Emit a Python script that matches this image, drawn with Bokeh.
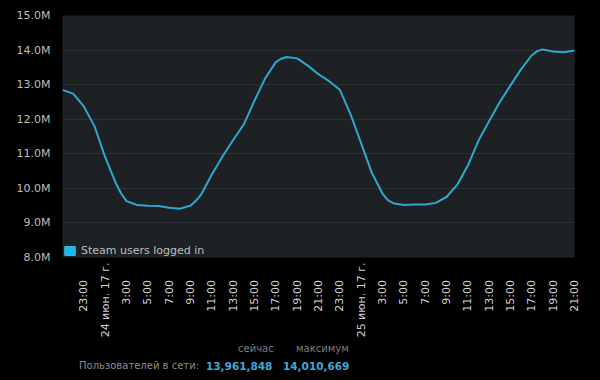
import math
from bokeh.plotting import figure
from bokeh.models import FixedTicker, Range1d, Legend, LegendItem, Div
from bokeh.layouts import column
from bokeh.embed import file_html
from bokeh.resources import INLINE

# hours since 2017-06-23 21:00
hours = [0, 1, 2, 3, 4, 5, 5.5, 6, 7, 8, 9,
         10, 11, 12, 12.5, 13, 14, 15, 16, 17, 18, 19,
         20, 20.5, 21, 22, 23, 24, 25, 26, 27, 28, 29,
         30, 30.5, 31, 32, 33, 34, 35, 36, 37, 38, 39,
         40, 41, 42, 43, 44, 44.5, 45, 46, 47, 48]
users_m = [12.85, 12.74, 12.37, 11.80, 10.90, 10.15, 9.85, 9.63, 9.52, 9.50, 9.49,
           9.44, 9.41, 9.50, 9.64, 9.82, 10.40, 10.92, 11.40, 11.85, 12.54, 13.18,
           13.65, 13.75, 13.80, 13.76, 13.55, 13.30, 13.10, 12.85, 12.15, 11.30, 10.45,
           9.85, 9.66, 9.57, 9.52, 9.53, 9.53, 9.58, 9.75, 10.10, 10.66, 11.38,
           11.95, 12.50, 12.98, 13.45, 13.85, 13.97, 14.02, 13.96, 13.94, 13.99]

y_ticks = [8, 9, 10, 11, 12, 13, 14, 15]
y_labels = ["8.0M", "9.0M", "10.0M", "11.0M", "12.0M", "13.0M", "14.0M", "15.0M"]

x_ticks = [2, 4, 6, 8, 10, 12, 14, 16, 18, 20, 22, 24, 26, 28, 30, 32, 34, 36, 38, 40, 42, 44, 46, 48]
x_labels = ["23:00", "24 июн. 17 г.", "3:00", "5:00", "7:00", "9:00", "11:00", "13:00", "15:00",
            "17:00", "19:00", "21:00", "23:00", "25 июн. 17 г.", "3:00", "5:00", "7:00", "9:00",
            "11:00", "13:00", "15:00", "17:00", "19:00", "21:00"]

series_name = "Steam users logged in"
stat_headers = ["сейчас", "максимум"]
stat_row_label = "Пользователей в сети:"
stat_values = ["13,961,848", "14,010,669"]

FONT = "DejaVu Sans"
TXT = "#bdbdbd"
PAD = "\u00a0" * 5  # hour labels sit a little further from the axis than date labels

p = figure(width=600, height=340, output_backend="svg", toolbar_location=None,
           min_border_left=62, min_border_right=26, min_border_top=15, min_border_bottom=82,
           x_range=Range1d(0, 48), y_range=Range1d(8, 15))
p.background_fill_color = "#1e2124"
p.border_fill_color = "#000000"
p.outline_line_color = None

p.xgrid.grid_line_color = None
p.ygrid.grid_line_color = "#2d3135"
p.ygrid.ticker = FixedTicker(ticks=y_ticks)

ya = p.yaxis[0]
ya.ticker = FixedTicker(ticks=y_ticks)
ya.major_label_overrides = {t: l for t, l in zip(y_ticks, y_labels)}
ya.axis_line_color = None
ya.major_tick_line_color = None
ya.minor_tick_line_color = None
ya.major_tick_in = 0
ya.major_tick_out = 0
ya.major_label_standoff = 12
ya.major_label_text_font = FONT
ya.major_label_text_font_size = "11px"
ya.major_label_text_color = TXT

xa = p.xaxis[0]
xa.ticker = FixedTicker(ticks=x_ticks)
xa.major_label_overrides = {t: (l if "г." in l else l + PAD) for t, l in zip(x_ticks, x_labels)}
xa.major_label_orientation = math.pi / 2
xa.axis_line_color = None
xa.major_tick_line_color = None
xa.minor_tick_line_color = None
xa.major_tick_in = 0
xa.major_tick_out = 0
xa.major_label_standoff = 5
xa.major_label_text_font = FONT
xa.major_label_text_font_size = "11px"
xa.major_label_text_color = "#d2d2d2"

p.line(hours, users_m, line_color="#2ea8d0", line_width=2)
nan = float("nan")
sw = p.quad(left=[nan], right=[nan], top=[nan], bottom=[nan],
            fill_color="#19b8ee", line_color="#3ec6f2")

legend = Legend(items=[LegendItem(label=series_name, renderers=[sw])], location=(1, 0))
legend.background_fill_alpha = 0
legend.border_line_color = None
legend.padding = 3
legend.margin = 0
legend.glyph_width = 13
legend.glyph_height = 11
legend.label_standoff = 5
legend.label_text_font = FONT
legend.label_text_font_size = "11px"
legend.label_text_color = TXT
p.add_layout(legend)

span = "position:absolute;white-space:nowrap;line-height:12px;"
html_txt = (
    f'<div style="position:relative;width:600px;height:40px;background:#000;font-family:\'DejaVu Sans\';">'
    f'<span style="{span}left:238px;top:3px;font-size:10px;color:#7d7d7d;">{stat_headers[0]}</span>'
    f'<span style="{span}left:296px;top:3px;font-size:10px;color:#7d7d7d;">{stat_headers[1]}</span>'
    f'<span style="{span}left:79px;top:20px;font-size:10px;color:#8c8c8c;">{stat_row_label}</span>'
    f'<span style="{span}left:206px;top:20px;font-size:10.5px;font-weight:bold;color:#3ea9d6;">{stat_values[0]}</span>'
    f'<span style="{span}left:283px;top:20px;font-size:10.5px;font-weight:bold;color:#3ea9d6;">{stat_values[1]}</span>'
    '</div>'
)
info = Div(text=html_txt, width=600, height=40, margin=(0, 0, 0, 0))

layout = column(p, info, spacing=0, margin=(0, 0, 0, 0))

html = file_html(layout, INLINE)
html = html.replace("<head>", "<head><style>html,body{background:#000;}</style>", 1)
open("out.html", "w").write(html)
